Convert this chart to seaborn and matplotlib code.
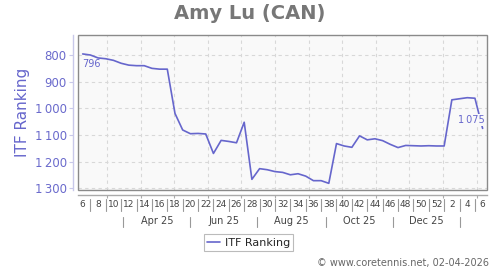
import numpy as np
import pandas as pd
import matplotlib
matplotlib.use("Agg")
import matplotlib.pyplot as plt
from matplotlib.patches import Rectangle
from matplotlib.lines import Line2D
import seaborn as sns

# ---------------- data ----------------
title = "Amy Lu (CAN)"
start_date = "2025-02-07"
week_labels = ["6", "8", "10", "12", "14", "16", "18", "20", "22", "24", "26", "28", "30",
               "32", "34", "36", "38", "40", "42", "44", "46", "48", "50", "52", "2", "4", "6"]
month_labels = ["Apr 25", "Jun 25", "Aug 25", "Oct 25", "Dec 25"]
ranking = [796, 800, 811, 814, 820, 831, 838, 840, 840, 850, 853, 853, 1019, 1081,
           1095, 1094, 1096, 1169, 1120, 1124, 1129, 1052, 1266, 1226, 1230, 1237,
           1240, 1249, 1245, 1254, 1271, 1271, 1281, 1132, 1141, 1146, 1103, 1118,
           1114, 1121, 1135, 1147, 1139, 1140, 1141, 1140, 1141, 1141, 968, 964,
           960, 962, 1075]
y_ticks = [800, 900, 1000, 1100, 1200, 1300]
series_name = "ITF Ranking"
credit = "\u00a9 www.coretennis.net, 02-04-2026"

# ---------------- styling ----------------
sns.set_style("white")
plt.rcParams["font.family"] = ["DejaVu Sans"]

LINE = "#6666cc"
TXT_BLUE = "#6a6acc"
GRID = "#d8d8d8"
FRAME = "#8a8a8a"

df = pd.DataFrame({"week": np.arange(len(ranking)), series_name: ranking})
t0 = pd.Timestamp(start_date)

def pos(date):
    return (pd.Timestamp(date) - t0).days / 7.0

month_starts = pd.date_range("2025-03-01", "2026-02-01", freq="MS")
month_pos = [pos(d) for d in month_starts]
band_edges = [pos(d) for d in ["2025-03-16", "2025-05-16", "2025-07-16",
                                "2025-09-16", "2025-11-16", "2026-01-16"]]

fig = plt.figure(figsize=(5, 2.7), dpi=100)
W, H = 500, 270
ax = fig.add_axes([78 / W, 1 - 190 / H, 409 / W, 155 / H])
ax.set_facecolor("#f9f9f9")

sns.lineplot(data=df, x="week", y=series_name, ax=ax, color=LINE, lw=1.2,
             label=series_name, legend=False, zorder=3)

ax.set_xlim(-0.61, 52.57)
ax.set_ylim(1306, 725)

# grid
for m in month_pos:
    ax.axvline(m, color=GRID, lw=0.8, ls=(0, (3, 3)), zorder=1)
for yv in y_ticks:
    ax.axhline(yv, color=GRID, lw=0.8, ls=(0, (3, 3)), zorder=1)

# frame
for s in ["top", "right"]:
    ax.spines[s].set_visible(False)
ax.add_patch(Rectangle((0, 0), 1, 1, transform=ax.transAxes, fill=False,
                       edgecolor=FRAME, lw=1.0, clip_on=False, zorder=4))
ax.spines["left"].set_position(("outward", 3.6))
ax.spines["left"].set_color("#c8c8ea")
ax.spines["left"].set_linewidth(1.0)
ax.spines["bottom"].set_position(("outward", 3.6))
ax.spines["bottom"].set_color("#aaaaaa")
ax.spines["bottom"].set_linewidth(1.0)

ax.set_yticks(y_ticks)
ax.set_yticklabels([f"{v:,}".replace(",", "\u2009") for v in y_ticks])
ax.tick_params(axis="y", length=3, width=0.8, color="#c8c8ea", labelcolor=TXT_BLUE,
               labelsize=8.5, pad=1.5, left=True)
ax.set_xticks(month_pos)
ax.set_xticklabels([])
ax.tick_params(axis="x", length=2.5, width=0.8, color="#aaaaaa", bottom=True)

ax.set_xlabel("")
ax.set_ylabel(series_name, color=LINE, fontsize=11, labelpad=3)

# week labels and separators
trans = ax.get_xaxis_transform()
def yfrac(py):
    return (190 - py) / 155.0

for i, lab in enumerate(week_labels):
    ax.text(2 * i, yfrac(204.5), lab, transform=trans, ha="center", va="center",
            fontsize=6.5, color="#444444", clip_on=False)
for i in range(len(week_labels) - 1):
    ax.add_line(Line2D([2 * i + 1, 2 * i + 1], [yfrac(198.5), yfrac(210.5)],
                       transform=trans, color="#999999", lw=0.8, clip_on=False))
for e in band_edges:
    ax.add_line(Line2D([e, e], [yfrac(216.5), yfrac(226.5)], transform=trans,
                       color="#999999", lw=0.8, clip_on=False))
for i, lab in enumerate(month_labels):
    c = (band_edges[i] + band_edges[i + 1]) / 2
    ax.text(c, yfrac(221.5), lab, transform=trans, ha="center", va="center",
            fontsize=7, color="#444444", clip_on=False)

# value annotations
ax.annotate(f"{ranking[0]}", xy=(0, ranking[0]), xytext=(-0.5, -4), textcoords="offset points",
            ha="left", va="top", fontsize=7, color=LINE, zorder=5)
last = len(ranking) - 1
ax.annotate(f"{ranking[-1]:,}".replace(",", "\u2009"), xy=(last, ranking[-1]), xytext=(1.5, 2.5),
            textcoords="offset points", ha="right", va="bottom", fontsize=7, color=LINE, zorder=5,
            bbox=dict(boxstyle="square,pad=0.1", fc="#f9f9f9", ec="none"))

# title
fig.text(0.5, 1 - 13.5 / H, title, ha="center", va="center", fontsize=14,
         fontweight="bold", color="#777777")

# legend
handles = [Line2D([0], [0], color=LINE, lw=1.2)]
leg = fig.legend(handles, [series_name], loc="center",
                 bbox_to_anchor=(248.5 / W, 1 - 242.5 / H), fontsize=8, frameon=True,
                 fancybox=False, handlelength=1.2, handletextpad=0.4, borderpad=0.3,
                 borderaxespad=0)
leg.get_frame().set_edgecolor("#aaaaaa")
leg.get_frame().set_linewidth(0.8)

fig.text(489 / W, 1 - 263 / H, credit, ha="right", va="center", fontsize=7, color="#666666")

fig.savefig("out.png", dpi=100)
